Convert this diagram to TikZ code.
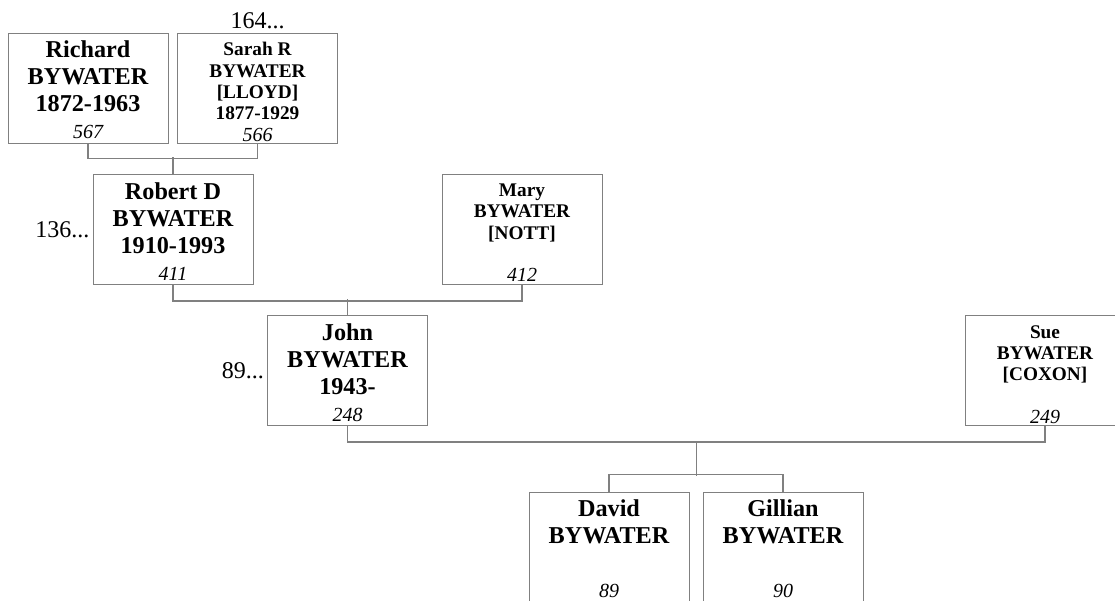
\documentclass[tikz,border=0pt]{standalone}
\usepackage{fontspec}
\setmainfont{Liberation Serif}
\usetikzlibrary{calc,positioning}

\definecolor{linegray}{RGB}{128,128,128}
\newcommand{\pnum}[2][27]{\mdseries\itshape\fontsize{20}{#1}\selectfont #2}
\newcommand{\namestrut}[1][22pt]{\rule{0pt}{#1}}

\tikzset{
  person/.style={draw=linegray, line width=1pt, rectangle, minimum width=160pt, minimum height=110pt, inner sep=0pt, align=center},
  bigname/.style={person, font=\fontsize{24.2}{27}\selectfont\bfseries},
  smallname/.style={person, font=\fontsize{19.3}{21.3}\selectfont\bfseries},
  more/.style={font=\fontsize{24}{28}\selectfont\mdseries, inner sep=3pt},
  link/.style={draw=linegray, line width=1.2pt}
}

\begin{document}
\begin{tikzpicture}[x=1pt,y=-1pt]

\useasboundingbox (0,0) rectangle (1115,600);
\clip (0,0) rectangle (1115,600);

\node[bigname] (richard) at (88,88) {\namestrut[20pt]Richard\\BYWATER\\1872-1963\\\pnum{567}};
\node[smallname, label={[more]above:164...}] (sarah) at (257.5,88) {\namestrut[21pt]Sarah R\\BYWATER\\{[LLOYD]}\\1877-1929\\\pnum[21.3]{566}};

\node[bigname, label={[more]left:136...}] (robert) at (173,229.5) {\namestrut[20.5pt]Robert D\\BYWATER\\1910-1993\\\pnum{411}};
\node[smallname] (mary) at (522,229.5) {\namestrut[19.5pt]Mary\\BYWATER\\{[NOTT]}\\~\\\pnum[21.3]{412}};

\node[bigname, label={[more]left:89...}] (john) at (347.5,370.5) {\namestrut John\\BYWATER\\1943-\\\pnum{248}};
\node[smallname] (sue) at (1045,370.5) {\namestrut[21pt]Sue\\BYWATER\\{[COXON]}\\~\\\pnum[21.3]{249}};

\node[bigname] (david) at (609,547) {\namestrut[20.5pt]David\\BYWATER\\~\\\pnum{89}};
\node[bigname] (gillian) at (783,547) {\namestrut[20.5pt]Gillian\\BYWATER\\~\\\pnum{90}};

\draw[link] (richard.south) -- ++(0,15) -| (sarah.south);
\draw[link] (robert.north) -- ++(0,-17);

\draw[link] (robert.south) -- ++(0,16) -| (mary.south);
\draw[link] (john.north) -- ++(0,-16);

\draw[link] (john.south) -- ++(0,16) -| (sue.south);
\coordinate (fam) at ($(john.south)!0.5!(sue.south)+(0,16)$);
\draw[link] (fam) -- ++(0,34);
\draw[link] (david.north) -- ++(0,-17) -| (gillian.north);

\end{tikzpicture}
\end{document}
